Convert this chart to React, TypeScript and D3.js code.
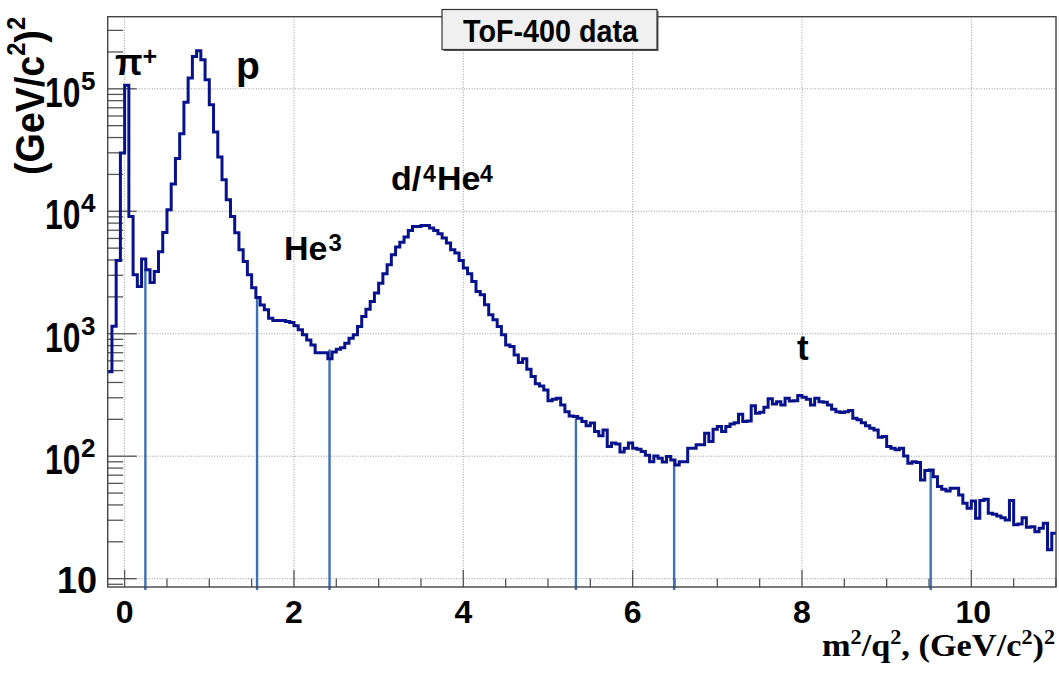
import React from "react";
import * as d3 from "d3";

// ---- binning of the histogram (m^2/q^2, bins of 0.05 starting at -0.2) ----
const X_MIN = -0.2;
const X_MAX = 11.0;
const BIN_WIDTH = 0.05;
const Y_MIN = 8.55;
const Y_MAX = 3.88e5;

// counts per bin
const countsPionProton = [
  490, 1150, 3960, 29900, 107000, 9070, 3030, 2430, 4070, 3330,
  2620, 3220, 4670, 6710, 10300, 16700, 27000, 43000, 77500, 122500,
  184000, 205000, 173000, 118700, 74100, 44400, 27700, 18100, 12400, 9070,
  6670, 4850, 3890, 3030, 2370, 1980, 1720, 1570, 1340, 1280,
  1280, 1280, 1260, 1235, 1160, 1076, 980, 891, 811, 698,
];
const countsHe3Deuteron = [
  698, 698, 624, 711, 748, 767, 838, 920, 980, 1145,
  1383, 1588, 1833, 2147, 2589, 3085, 3655, 4413, 5103, 5598,
  6152, 6968, 7516, 7516, 7656, 7656, 7290, 6968, 6546, 6040,
  5496, 4850, 4557, 3963, 3436, 3085, 2669, 2213, 2080, 1722,
  1427, 1299, 1145, 980, 811, 786, 672, 582, 624, 514,
  447, 390, 375, 348, 284, 292, 298, 262, 231, 213,
  211, 204, 192, 177, 187, 159, 147, 164, 120, 128,
];
const countsTriton = [
  126, 108, 116, 128, 116, 114, 109, 102, 90.3, 100.5,
  96.3, 89.8, 99.6, 93.3, 84.9, 90.3, 90.3, 116, 116, 124,
  124, 154, 132, 166, 175, 159, 175, 183, 188, 220,
  192, 194, 258, 224, 229, 251, 294, 267, 279, 262,
  298, 283, 284, 313, 303, 292, 262, 298, 279, 276,
  262, 242, 231, 227, 231, 236, 204, 198, 188, 177,
  169, 164, 143, 145, 120, 116, 113, 116, 100.5, 87.7,
  90.3, 88.7, 64, 76.3, 77.3, 68.1, 56.5, 53.8, 52.1, 54.8,
  54.8, 48.3, 41.3, 37.6, 43.1, 31.1, 43.4, 44.5, 34.2, 33.6,
  32.5, 31.5, 30.2, 43.4, 27.5, 28, 31.5, 26.3, 26.6, 24.2,
  25.8, 28.4, 17.2, 23.5,
];
const counts = [...countsPionProton, ...countsHe3Deuteron, ...countsTriton];

// selection cut lines (x position, top value)
const cutPositions = [0.245, 1.564, 2.42, 5.33, 6.49, 9.52];
const cutTops = [3400, 1980, 745, 204, 93, 77];

// axis ticks
const xMajorTicks = [0, 2, 4, 6, 8, 10];
const xTickLabels = ["0", "2", "4", "6", "8", "10"];
const yDecades = [10, 100, 1000, 10000, 100000];
const yExponents = ["", "2", "3", "4", "5"];

const W = 1059;
const H = 673;
const PL = 107.7;
const PR = 1056;
const PT = 16.7;
const PB = 587;

const SANS = "'Liberation Sans', Arial, Helvetica, sans-serif";
const SERIF = "'Liberation Serif', 'Times New Roman', serif";

export default function App() {
  const x = d3.scaleLinear().domain([X_MIN, X_MAX]).range([PL, PR]);
  const y = d3.scaleLog().domain([Y_MIN, Y_MAX]).range([PB, PT]);

  const pts: [number, number][] = counts.map((c, i) => [X_MIN + i * BIN_WIDTH, c]);
  pts.push([X_MIN + counts.length * BIN_WIDTH, counts[counts.length - 1]]);
  const line = d3
    .line<[number, number]>()
    .x((d) => x(d[0]))
    .y((d) => y(d[1]))
    .curve(d3.curveStepAfter);
  const histPath = line(pts) || "";

  // minor y ticks
  const yMinor: number[] = [];
  for (let e = 0; e <= 5; e++) {
    for (let m = 1; m <= 9; m++) {
      const v = m * Math.pow(10, e);
      if (v >= Y_MIN && v <= Y_MAX) yMinor.push(v);
    }
  }
  const xMinor: number[] = d3.range(0, 11.01, 0.5);

  const gridStyle = { stroke: "#9a9a9a", strokeWidth: 1, strokeDasharray: "1,1.6" };

  return (
    <svg
      width={W}
      height={H}
      style={{ position: "absolute", left: 0, top: 0, background: "#fff" }}
    >
      <rect x={0} y={0} width={W} height={H} fill="#fff" />
      {/* grid */}
      {xMajorTicks.map((t) => (
        <line key={"gx" + t} x1={x(t)} x2={x(t)} y1={PT} y2={PB} {...gridStyle} />
      ))}
      {yDecades.map((t) => (
        <line key={"gy" + t} x1={PL} x2={PR} y1={y(t)} y2={y(t)} {...gridStyle} />
      ))}

      {/* y ticks */}
      {yMinor.map((v) => {
        const major = yDecades.includes(v);
        return (
          <line
            key={"yt" + v}
            x1={PL}
            x2={PL + (major ? 29 : 15.5)}
            y1={y(v)}
            y2={y(v)}
            stroke="#555"
            strokeWidth={1.3}
          />
        );
      })}
      {/* x ticks */}
      {xMinor.map((v) => {
        const major = Math.abs(v % 2) < 1e-6;
        return (
          <line
            key={"xt" + v}
            x1={x(v)}
            x2={x(v)}
            y1={PB}
            y2={PB - (major ? 17 : 8.5)}
            stroke="#555"
            strokeWidth={1.3}
          />
        );
      })}

      {/* cut lines */}
      {cutPositions.map((c, i) => (
        <line
          key={"cut" + i}
          x1={x(c)}
          x2={x(c)}
          y1={590}
          y2={y(cutTops[i])}
          stroke="#3e70b6"
          strokeWidth={2.4}
        />
      ))}

      {/* histogram */}
      <path d={histPath} fill="none" stroke="#08128a" strokeWidth={3} strokeLinejoin="miter" />

      {/* frame */}
      <rect x={PL} y={PT} width={PR - PL} height={PB - PT} fill="none" stroke="#444" strokeWidth={1.4} />

      {/* y tick labels */}
      {yDecades.map((d, i) =>
        i === 0 ? (
          <text
            key={"yl" + d}
            x={97}
            y={y(d) + 14}
            textAnchor="end"
            fontFamily={SANS}
            fontWeight="bold"
            fontSize={36}
          >
            10
          </text>
        ) : (
          <g key={"yl" + d}>
            <text
              transform={`translate(45,${y(d) + 18}) scale(0.74,1)`}
              fontFamily={SANS}
              fontWeight="bold"
              fontSize={43}
            >
              10
            </text>
            <text x={81} y={y(d) + 1} fontFamily={SANS} fontWeight="bold" fontSize={26}>
              {yExponents[i]}
            </text>
          </g>
        )
      )}

      {/* x tick labels */}
      {xMajorTicks.map((t, i) => (
        <text
          key={"xl" + t}
          x={x(t) + (t === 10 ? 2 : 0)}
          y={623}
          textAnchor="middle"
          fontFamily={SANS}
          fontWeight="bold"
          fontSize={32}
        >
          {xTickLabels[i]}
        </text>
      ))}

      {/* x axis title */}
      <text
        x={1055}
        y={656}
        textAnchor="end"
        fontFamily={SERIF}
        fontWeight="bold"
        fontSize={31}
        textLength={233}
        lengthAdjust="spacingAndGlyphs"
      >
        m<tspan fontSize={20} dy={-12}>2</tspan>
        <tspan dy={12}>/q</tspan>
        <tspan fontSize={20} dy={-12}>2</tspan>
        <tspan dy={12}>, (GeV/c</tspan>
        <tspan fontSize={20} dy={-12}>2</tspan>
        <tspan dy={12}>)</tspan>
        <tspan fontSize={20} dy={-12}>2</tspan>
      </text>

      {/* y axis title */}
      <text
        transform="translate(44,175) rotate(-90)"
        fontFamily={SANS}
        fontWeight="bold"
        fontSize={40}
        textLength={158}
        lengthAdjust="spacingAndGlyphs"
      >
        (GeV/c
        <tspan fontSize={25} dy={-19}>2</tspan>
        <tspan fontSize={40} dy={19}>)</tspan>
        <tspan fontSize={25} dy={-19}>2</tspan>
      </text>

      {/* particle labels */}
      <g fontFamily={SANS} fontWeight="bold" fill="#000">
        <text x={115} y={75} fontSize={36}>π</text>
        <text x={142.5} y={65} fontSize={25}>+</text>
        <text x={236} y={78.5} fontSize={39}>p</text>
        <text x={284} y={260} fontSize={34}>He</text>
        <text x={328.5} y={251} fontSize={24}>3</text>
        <text x={391} y={190} fontSize={34}>d/</text>
        <text x={423} y={182} fontSize={23}>4</text>
        <text x={437} y={190} fontSize={34}>He</text>
        <text x={480} y={182} fontSize={23}>4</text>
        <text x={797} y={360} fontSize={35}>t</text>
      </g>

      {/* title box */}
      <rect x={443.5} y={11} width={215} height={40} fill="#555" />
      <rect x={442} y={9.5} width={215} height={40} fill="#f0f0f0" stroke="#333" strokeWidth={1.2} />
      <text
        x={463}
        y={41.7}
        fontFamily={SANS}
        fontWeight="bold"
        fontSize={32}
        textLength={175}
        lengthAdjust="spacingAndGlyphs"
      >
        ToF-400 data
      </text>
    </svg>
  );
}
